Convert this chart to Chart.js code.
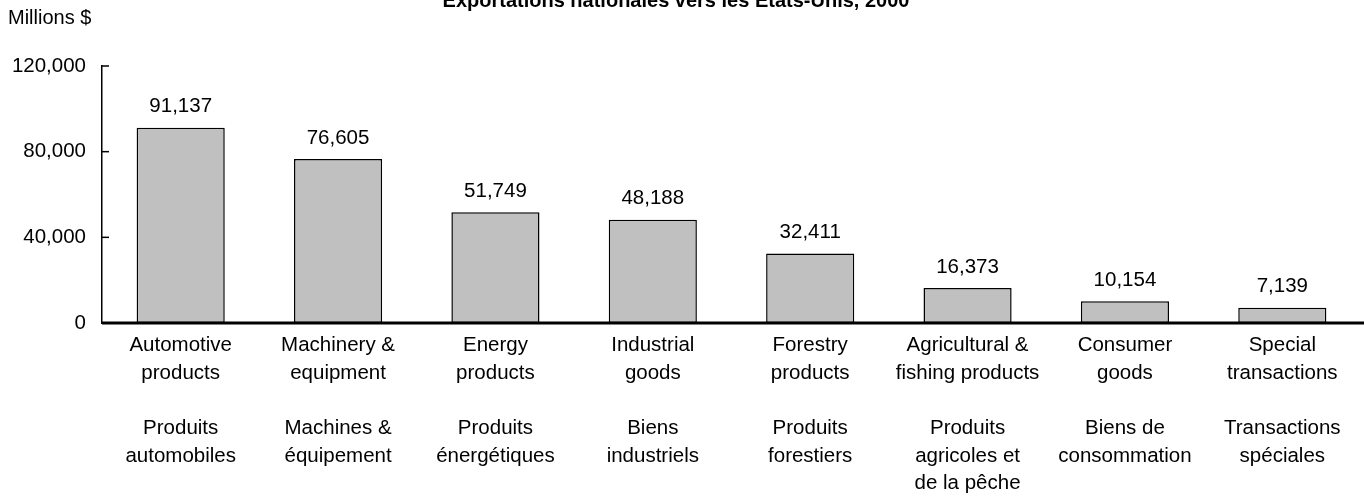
<!DOCTYPE html>
<html>
<head>
<meta charset="utf-8">
<script src="https://cdn.jsdelivr.net/npm/chart.js@4/dist/chart.umd.min.js"></script>
<style>
  body { margin: 0; background: #fff; }
  canvas { display: block; }
</style>
</head>
<body>
<canvas id="exportsChart" width="1364" height="499"></canvas>
<script>
const titleText = "Exportations nationales vers les États-Unis, 2000";
const unitLabel = "Millions $";

const categoriesEn = [
    ["Automotive", "products"],
    ["Machinery &", "equipment"],
    ["Energy", "products"],
    ["Industrial", "goods"],
    ["Forestry", "products"],
    ["Agricultural &", "fishing products"],
    ["Consumer", "goods"],
    ["Special", "transactions"]
];
const categoriesFr = [
    ["Produits", "automobiles"],
    ["Machines &", "équipement"],
    ["Produits", "énergétiques"],
    ["Biens", "industriels"],
    ["Produits", "forestiers"],
    ["Produits", "agricoles et", "de la pêche"],
    ["Biens de", "consommation"],
    ["Transactions", "spéciales"]
];
const exportValues = [91137, 76605, 51749, 48188, 32411, 16373, 10154, 7139];
const yTicks = [0, 40000, 80000, 120000];

const FONT = "'Liberation Sans', Arial, sans-serif";
const FSIZE = 20.5;

// english lines, blank line, french lines
const labels = categoriesEn.map((en, i) => en.concat([""], categoriesFr[i]));

const fmt = v => v.toLocaleString("en-US");

const extras = {
    id: "extras",
    afterDraw(chart) {
        const ctx = chart.ctx;
        const y = chart.scales.y;
        const area = chart.chartArea;
        ctx.save();

        // title, clipped at the top like the original
        ctx.fillStyle = "#000";
        ctx.font = "bold 20px " + FONT;
        ctx.textAlign = "center";
        ctx.textBaseline = "alphabetic";
        ctx.fillText(titleText, 676, 7);

        // unit label
        ctx.font = "20px " + FONT;
        ctx.textAlign = "left";
        ctx.fillText(unitLabel, 8, 24);

        // inner ticks on the y axis
        ctx.strokeStyle = "#000";
        ctx.lineWidth = 1.5;
        yTicks.forEach(t => {
            const py = y.getPixelForValue(t);
            ctx.beginPath();
            ctx.moveTo(area.left, py);
            ctx.lineTo(area.left + 7, py);
            ctx.stroke();
        });

        // heavy baseline reaching the right edge
        ctx.lineWidth = 3;
        ctx.beginPath();
        ctx.moveTo(area.left, y.getPixelForValue(0));
        ctx.lineTo(chart.width, y.getPixelForValue(0));
        ctx.stroke();

        // value labels
        ctx.font = FSIZE + "px " + FONT;
        ctx.textAlign = "center";
        ctx.textBaseline = "middle";
        const meta = chart.getDatasetMeta(0);
        meta.data.forEach((bar, i) => {
            ctx.fillText(fmt(exportValues[i]), bar.x, bar.y - 21);
        });
        ctx.restore();
    }
};

new Chart(document.getElementById("exportsChart"), {
    type: "bar",
    data: {
        labels: labels,
        datasets: [{
            data: exportValues,
            backgroundColor: "#c0c0c0",
            borderColor: "#000",
            borderWidth: 1.5,
            borderSkipped: false,
            barPercentage: 0.56,
            categoryPercentage: 1
        }]
    },
    options: {
        responsive: false,
        animation: false,
        layout: { padding: { top: 66, right: 3, left: 0, bottom: 0 } },
        plugins: {
            legend: { display: false },
            title: { display: false },
            tooltip: { enabled: false }
        },
        scales: {
            x: {
                grid: { display: false, drawTicks: false },
                border: { display: false },
                ticks: {
                    color: "#000",
                    font: { family: FONT, size: FSIZE, lineHeight: 1.345 },
                    padding: 9,
                    maxRotation: 0,
                    autoSkip: false
                },
                afterFit(scale) { scale.height = 176; }
            },
            y: {
                min: 0,
                max: 120000,
                grid: { display: false, drawTicks: false },
                border: { display: true, color: "#000", width: 1.5 },
                afterBuildTicks(scale) {
                    scale.ticks = yTicks.map(v => ({ value: v }));
                },
                ticks: {
                    color: "#000",
                    font: { family: FONT, size: FSIZE },
                    padding: 16,
                    callback: v => fmt(v)
                },
                afterFit(scale) { scale.width = 102; }
            }
        }
    },
    plugins: [extras]
});
</script>
</body>
</html>
